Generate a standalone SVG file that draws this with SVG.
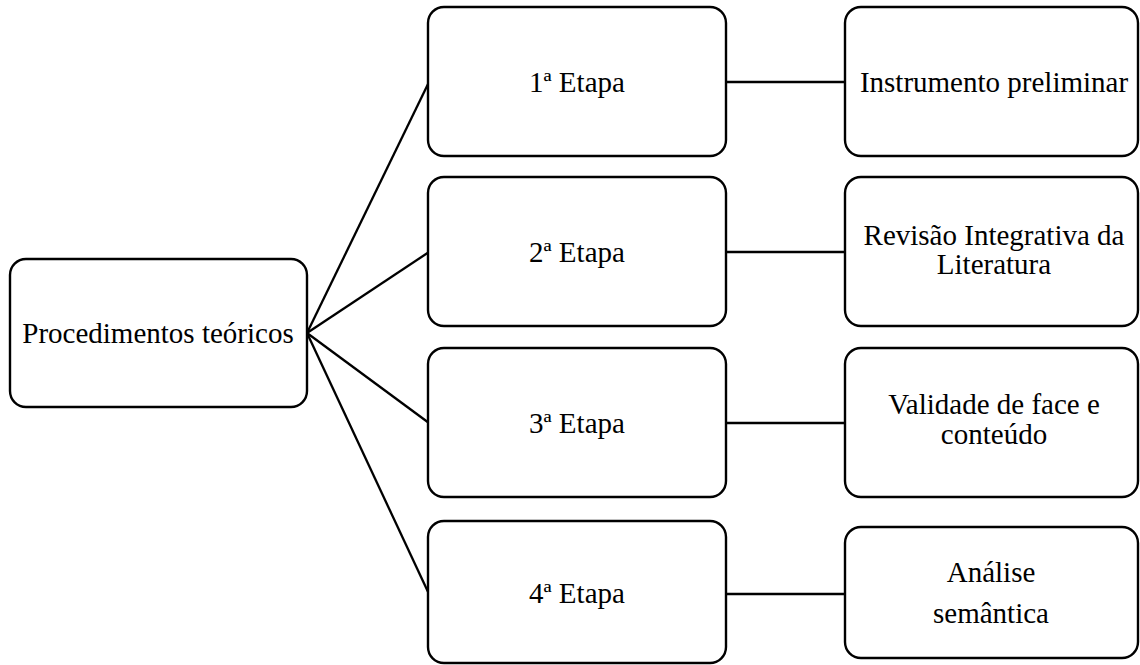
<svg xmlns="http://www.w3.org/2000/svg" width="1140" height="665" viewBox="0 0 1140 665">
  <style>
    .box { fill: #ffffff; stroke: #000000; stroke-width: 2.4; }
    .link { stroke: #000000; stroke-width: 2.3; fill: none; }
    .label { font-family: "Liberation Serif", "Times New Roman", serif; font-size: 29px; fill: #000000; text-anchor: middle; }
  </style>
  <rect width="1140" height="665" fill="#ffffff"/>

  <!-- connectors -->
  <g id="connectors">
    <line class="link" x1="307" y1="333" x2="429" y2="82"/>
    <line class="link" x1="307" y1="333" x2="429" y2="252"/>
    <line class="link" x1="307" y1="333" x2="429" y2="423"/>
    <line class="link" x1="307" y1="333" x2="429" y2="594"/>
    <line class="link" x1="726" y1="82" x2="845" y2="82"/>
    <line class="link" x1="726" y1="252" x2="845" y2="252"/>
    <line class="link" x1="726" y1="423" x2="845" y2="423"/>
    <line class="link" x1="726" y1="594" x2="845" y2="594"/>
  </g>

  <!-- root -->
  <g id="procedimentos">
    <rect class="box" x="10" y="259" width="297" height="148" rx="16" ry="16"/>
    <text class="label" x="158" y="343">Procedimentos teóricos</text>
  </g>

  <!-- stages -->
  <g id="etapa1">
    <rect class="box" x="428" y="7" width="298" height="149" rx="16" ry="16"/>
    <text class="label" x="577" y="92">1ª Etapa</text>
  </g>
  <g id="etapa2">
    <rect class="box" x="428" y="177" width="298" height="149" rx="16" ry="16"/>
    <text class="label" x="577" y="262">2ª Etapa</text>
  </g>
  <g id="etapa3">
    <rect class="box" x="428" y="348" width="298" height="149" rx="16" ry="16"/>
    <text class="label" x="577" y="433">3ª Etapa</text>
  </g>
  <g id="etapa4">
    <rect class="box" x="428" y="521" width="298" height="142" rx="16" ry="16"/>
    <text class="label" x="577" y="603">4ª Etapa</text>
  </g>

  <!-- outcomes -->
  <g id="instrumento">
    <rect class="box" x="845" y="7" width="293" height="149" rx="16" ry="16"/>
    <text class="label" x="994" y="92">Instrumento preliminar</text>
  </g>
  <g id="revisao">
    <rect class="box" x="845" y="177" width="293" height="149" rx="16" ry="16"/>
    <text class="label" x="994" y="245">Revisão Integrativa da</text>
    <text class="label" x="994" y="274">Literatura</text>
  </g>
  <g id="validade">
    <rect class="box" x="845" y="348" width="293" height="149" rx="16" ry="16"/>
    <text class="label" x="994" y="414">Validade de face e</text>
    <text class="label" x="994" y="444">conteúdo</text>
  </g>
  <g id="analise">
    <rect class="box" x="845" y="527" width="293" height="131" rx="16" ry="16"/>
    <text class="label" x="991" y="582">Análise</text>
    <text class="label" x="991" y="623">semântica</text>
  </g>
</svg>
